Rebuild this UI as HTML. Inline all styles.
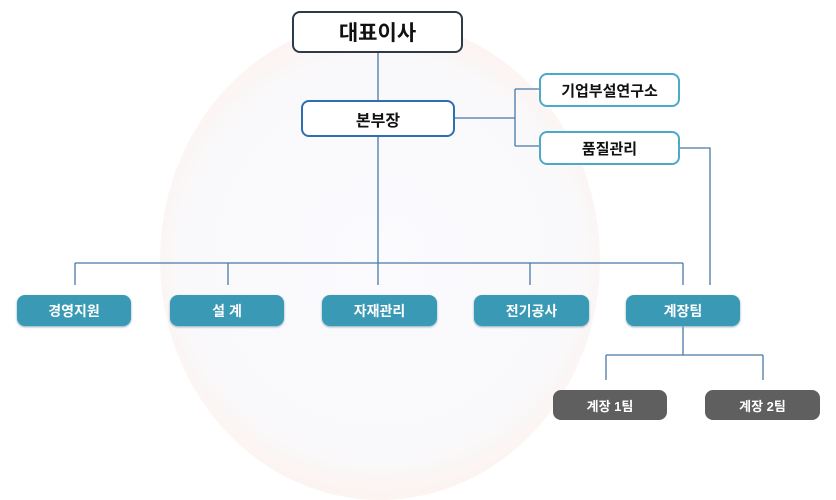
<!DOCTYPE html>
<html><head><meta charset="utf-8"><style>
body{margin:0;width:836px;height:500px;overflow:hidden;background:#fff;position:relative;font-family:"Liberation Sans","Noto Sans CJK KR",sans-serif}
.b{position:absolute;box-sizing:border-box;display:flex;align-items:center;justify-content:center;font-weight:bold}
.w{background:#fff;border-radius:8px;color:#111}
.t{background:#3a9ab5;color:#fff;border-radius:8px;font-size:14px;box-shadow:0 1px 2px #8ab}
.g{background:#5f5f5f;color:#fff;border-radius:8px;font-size:13px}
</style></head><body>
<div style="position:absolute;left:160px;top:20px;width:440px;height:480px;border-radius:50%;background:radial-gradient(circle,#fbfbff 0%,#f9f9fb 60%,#fdf3ef 75%,#fff 80%)"></div>
<svg style="position:absolute;left:0;top:0" width="836" height="500">
<g stroke="#4a78a8" stroke-width="1.3" fill="none">
<path d="M378 53V100M378 137V285M455 118H515M515 89V146M515 89H539M515 146H539M680 148H710V285"/>
<path d="M75 263H683M75 263V285M228 263V285M530 263V285M683 263V285"/>
<path d="M683 326V355M606 355H763M606 355V380M763 355V380"/>
</g></svg>
<div class="b w" style="left:292px;top:11px;width:171px;height:42px;border:2px solid #2d3a48;font-size:21px">대표이사</div>
<div class="b w" style="left:301px;top:100px;width:154px;height:37px;border:2px solid #2f6fb0;font-size:16px">본부장</div>
<div class="b w" style="left:539px;top:73px;width:141px;height:34px;border:2px solid #4aaac8;font-size:15px">기업부설연구소</div>
<div class="b w" style="left:539px;top:131px;width:141px;height:34px;border:2px solid #4aaac8;font-size:15px">품질관리</div>
<div class="b t" style="left:17px;top:295px;width:114px;height:31px">경영지원</div>
<div class="b t" style="left:170px;top:295px;width:114px;height:31px">설 계</div>
<div class="b t" style="left:322px;top:295px;width:115px;height:31px">자재관리</div>
<div class="b t" style="left:474px;top:295px;width:115px;height:31px">전기공사</div>
<div class="b t" style="left:626px;top:295px;width:114px;height:31px">계장팀</div>
<div class="b g" style="left:553px;top:390px;width:114px;height:30px">계장 1팀</div>
<div class="b g" style="left:705px;top:390px;width:115px;height:30px">계장 2팀</div>
</body></html>
